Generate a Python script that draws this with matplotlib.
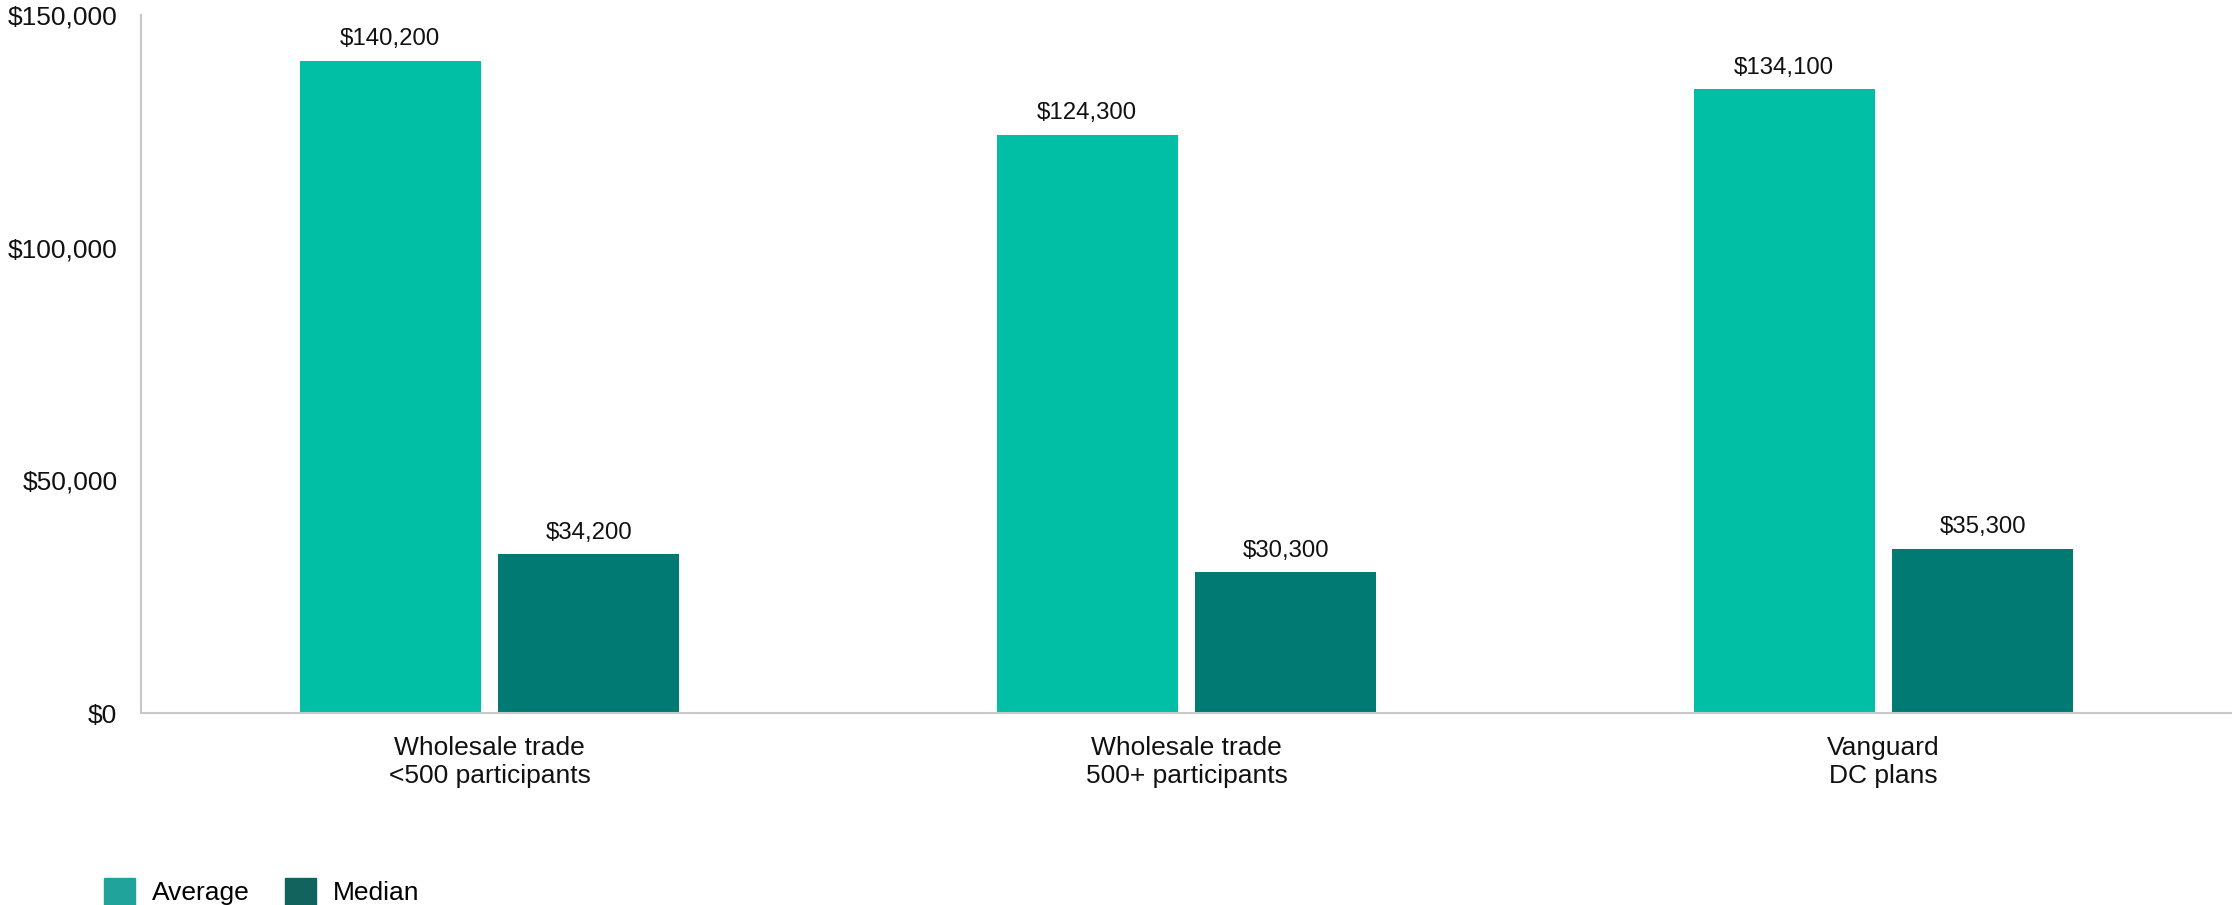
import matplotlib
matplotlib.use("Agg")
import matplotlib.pyplot as plt
from matplotlib.patches import Patch
import numpy as np

plt.rcParams['font.family'] = ['Liberation Sans', 'DejaVu Sans']

categories = ["Wholesale trade\n<500 participants",
              "Wholesale trade\n500+ participants",
              "Vanguard\nDC plans"]
average = [140200, 124300, 134100]
median = [34200, 30300, 35300]
y_ticks = [0, 50000, 100000, 150000]

bar_colors = ["#00BFA5", "#007A73"]
legend_colors = ["#1FA39A", "#12635E"]

fig = plt.figure(figsize=(22.32, 9.05), dpi=100)
ax = fig.add_axes([141 / 2232, 192 / 905, 1 - 141 / 2232, (713 - 15) / 905])

x = np.arange(len(categories))
w = 0.26
off = 0.1425
b1 = ax.bar(x - off, average, w, color=bar_colors[0])
b2 = ax.bar(x + off, median, w, color=bar_colors[1])

for bars, vals in ((b1, average), (b2, median)):
    for rect, v in zip(bars, vals):
        ax.annotate(f"${v:,.0f}", (rect.get_x() + rect.get_width() / 2, v),
                    xytext=(0, 11), textcoords="offset points",
                    ha="center", va="baseline", fontsize=17.3, color="#111111")

ax.set_xlim(-0.5, 2.5)
ax.set_ylim(0, 150000)
ax.set_yticks(y_ticks)
ax.set_yticklabels([f"${t:,.0f}" for t in y_ticks])
ax.set_xticks(x)
ax.set_xticklabels(categories, linespacing=1.22)
ax.tick_params(axis="both", length=0, labelsize=19, colors="#111111")
ax.tick_params(axis="x", pad=16.5)
ax.tick_params(axis="y", pad=17)

for s in ("top", "right"):
    ax.spines[s].set_visible(False)
for s in ("left", "bottom"):
    ax.spines[s].set_color("#C8C8C8")
    ax.spines[s].set_linewidth(1.5)

handles = [Patch(color=legend_colors[0], label="Average"),
           Patch(color=legend_colors[1], label="Median")]
fig.legend(handles=handles, loc="lower left", bbox_to_anchor=(80 / 2232, -24 / 905),
           ncol=2, frameon=False, fontsize=19, handlelength=1.17, handleheight=1.17,
           handletextpad=0.65, columnspacing=1.33)

fig.savefig("out.png", dpi=100)
